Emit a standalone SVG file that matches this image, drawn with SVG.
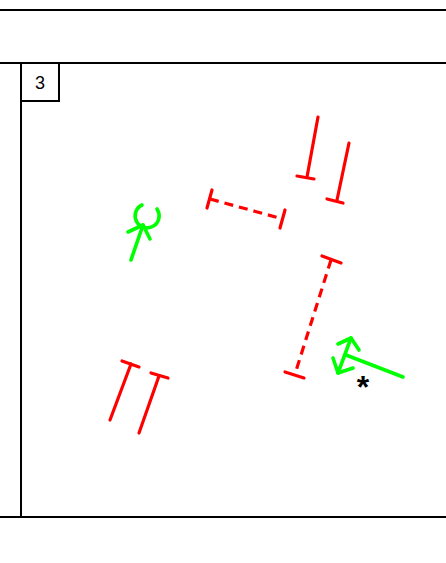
<svg xmlns="http://www.w3.org/2000/svg" width="446" height="563" viewBox="0 0 446 563">
<style>
.frame{stroke:#000;stroke-width:2;fill:none}
.red{stroke:#f00;stroke-width:3.2;fill:none;stroke-linecap:round}
.dash{stroke-dasharray:9,6;stroke-linecap:butt}
.green{stroke:#0f0;stroke-width:3.6;fill:none;stroke-linecap:round;stroke-linejoin:round}
text{font-family:"Liberation Sans",Arial,sans-serif}
</style>
<rect width="446" height="563" fill="#fff"/>
<g id="frame">
<line class="frame" x1="0" y1="10" x2="446" y2="10"/>
<line class="frame" x1="0" y1="63" x2="446" y2="63"/>
<line class="frame" x1="0" y1="517" x2="446" y2="517"/>
<line class="frame" x1="21" y1="63" x2="21" y2="517"/>
<rect class="frame" x="21" y="63" width="38" height="38"/>
<text x="40" y="89" font-size="18" text-anchor="middle">3</text>
</g>
<g id="connectors">
<g id="dash1">
<line class="red dash" x1="210" y1="199" x2="283" y2="219"/>
<line class="red" x1="212" y1="190" x2="207" y2="208"/>
<line class="red" x1="285" y1="210" x2="280" y2="228"/>
</g>
<g id="pair1">
<line class="red" x1="318" y1="117" x2="307" y2="177"/>
<line class="red" x1="297" y1="176" x2="314" y2="179"/>
<line class="red" x1="349" y1="143" x2="337" y2="200"/>
<line class="red" x1="327" y1="199" x2="343" y2="203"/>
</g>
<g id="dash2">
<line class="red dash" x1="331" y1="260" x2="295" y2="374"/>
<line class="red" x1="322" y1="256" x2="341" y2="263"/>
<line class="red" x1="285" y1="372" x2="304" y2="378"/>
</g>
<g id="pair2">
<line class="red" x1="110" y1="420" x2="131" y2="364"/>
<line class="red" x1="122" y1="361" x2="139" y2="367"/>
<line class="red" x1="139" y1="433" x2="159" y2="376"/>
<line class="red" x1="151" y1="373" x2="168" y2="378"/>
</g>
</g>
<g id="socket">
<line class="green" x1="131" y1="260" x2="143" y2="225"/>
<polyline class="green" points="128,232 143,225 150,239"/>
<path class="green" d="M142,205 A12,12 0 1 0 157,209"/>
</g>
<g id="double-arrow">
<line class="green" x1="403" y1="377" x2="346" y2="355"/>
<line class="green" x1="351" y1="338" x2="338" y2="373"/>
<polyline class="green" points="338,344 351,338 359,350"/>
<polyline class="green" points="333,358 338,373 353,368"/>
<text x="363" y="398" font-size="32" font-weight="bold" text-anchor="middle" fill="#000">*</text>
</g>
</svg>
